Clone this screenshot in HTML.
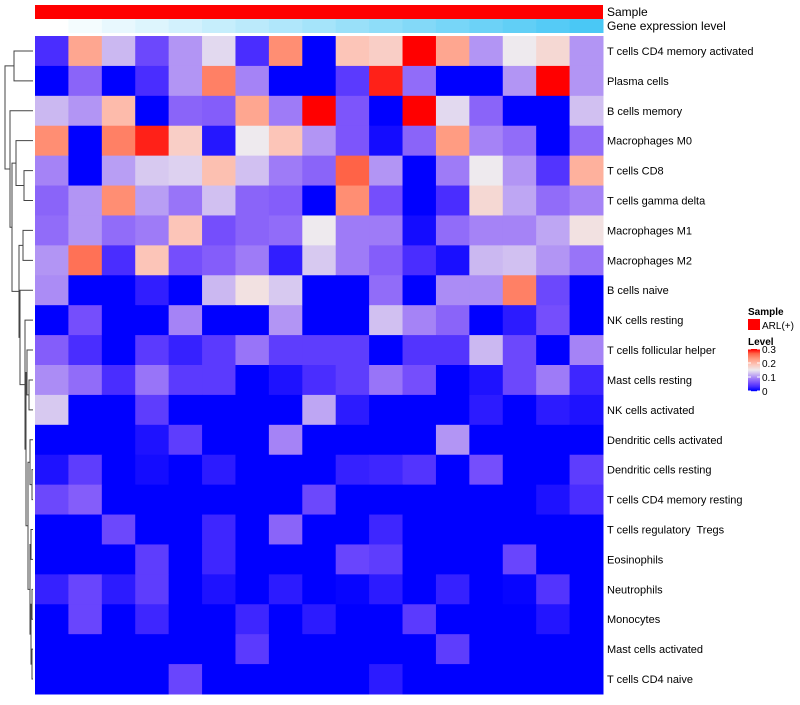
<!DOCTYPE html>
<html><head><meta charset="utf-8"><style>
body{margin:0;background:#fff;font-family:"Liberation Sans",sans-serif;}
svg text{font-family:"Liberation Sans",sans-serif;white-space:pre;}
</style></head><body>
<svg id="chart" width="800" height="700" xmlns="http://www.w3.org/2000/svg">
<g id="dend"></g>
<g id="anno"></g>
<g id="cells"></g>
<g id="labels"></g>
<g id="legend"></g>
</svg>
<script>
const rowNames=["T cells CD4 memory activated","Plasma cells","B cells memory","Macrophages M0","T cells CD8","T cells gamma delta","Macrophages M1","Macrophages M2","B cells naive","NK cells resting","T cells follicular helper","Mast cells resting","NK cells activated","Dendritic cells activated","Dendritic cells resting","T cells CD4 memory resting","T cells regulatory  Tregs","Eosinophils","Neutrophils","Monocytes","Mast cells activated","T cells CD4 naive"];
const geneLevel=[0,1,2,3,4,5,6,7,8,9,10,11,12,13,14,15,16];
const values=[
[0.03,0.22,0.12,0.05,0.1,0.14,0.03,0.24,0,0.19,0.18,0.3,0.22,0.1,0.15,0.17,0.1],
[0,0.07,0,0.03,0.1,0.25,0.09,0,0,0.04,0.29,0.075,0,0,0.1,0.3,0.1],
[0.12,0.1,0.2,0,0.07,0.065,0.22,0.085,0.3,0.06,0,0.3,0.14,0.07,0,0,0.125],
[0.24,0,0.25,0.29,0.18,0.015,0.15,0.19,0.1,0.06,0.008,0.07,0.23,0.09,0.075,0,0.075],
[0.09,0,0.105,0.13,0.135,0.195,0.125,0.085,0.07,0.27,0.1,0,0.085,0.15,0.1,0.035,0.21],
[0.07,0.1,0.24,0.105,0.08,0.125,0.07,0.065,0,0.24,0.055,0,0.03,0.17,0.11,0.075,0.09],
[0.075,0.1,0.075,0.085,0.19,0.055,0.07,0.075,0.15,0.085,0.085,0.008,0.075,0.09,0.09,0.11,0.16],
[0.1,0.26,0.03,0.19,0.055,0.065,0.085,0.02,0.13,0.085,0.065,0.03,0.01,0.12,0.125,0.1,0.08],
[0.095,0,0,0.02,0,0.12,0.16,0.13,0,0,0.075,0,0.095,0.095,0.25,0.05,0],
[0,0.055,0,0,0.09,0,0,0.1,0,0,0.125,0.09,0.07,0,0.018,0.055,0],
[0.065,0.03,0,0.04,0.022,0.04,0.08,0.042,0.042,0.042,0,0.035,0.035,0.12,0.05,0,0.09],
[0.095,0.075,0.03,0.08,0.04,0.04,0,0.012,0.03,0.042,0.08,0.055,0,0.012,0.05,0.085,0.025],
[0.13,0,0,0.042,0,0,0,0,0.11,0.018,0,0,0,0.018,0,0.018,0.012],
[0,0,0,0.012,0.042,0,0,0.09,0,0,0,0,0.1,0,0,0,0],
[0.012,0.042,0,0.008,0,0.018,0,0,0,0.022,0.025,0.035,0,0.055,0,0,0.042],
[0.05,0.065,0,0,0,0,0,0,0.05,0,0,0,0,0,0,0.012,0.03],
[0,0,0.05,0,0,0.025,0,0.07,0,0,0.025,0,0,0,0,0,0],
[0,0,0,0.042,0,0.025,0,0,0,0.048,0.042,0,0,0,0.048,0,0],
[0.022,0.048,0.018,0.042,0,0.012,0,0.018,0,0.003,0.018,0,0.022,0,0.003,0.035,0],
[0,0.048,0,0.025,0,0,0.025,0,0.018,0,0,0.04,0,0,0,0.014,0],
[0,0,0,0,0,0,0.04,0,0,0,0,0,0.042,0,0,0,0],
[0,0,0,0,0.048,0,0,0,0,0,0.018,0,0,0,0,0,0]
];
const legendTicks=[0,0.1,0.2,0.3];

const NS="http://www.w3.org/2000/svg";
const X0=35,X1=603,Y0=36,Y1=694;
const nC=values[0].length,nR=rowNames.length;
const cw=(X1-X0)/nC,rh=(Y1-Y0)/nR;
const xPos=c=>X0+c*cw;
const yPos=r=>Y0+r*rh;
const stops=[[0,[0,0,255]],[0.03,[74,45,255]],[0.06,[125,85,251]],[0.09,[165,131,246]],[0.12,[203,184,241]],[0.15,[238,234,238]],[0.19,[252,197,184]],[0.23,[255,156,130]],[0.27,[255,99,71]],[0.3,[255,0,0]]];
function col(v){v=Math.max(0,Math.min(0.3,v));for(let i=1;i<stops.length;i++){if(v<=stops[i][0]){const a=stops[i-1],b=stops[i],t=(v-a[0])/(b[0]-a[0]);return "rgb("+a[1].map((x,k)=>Math.round(x+(b[1][k]-x)*t)).join(",")+")";}}return "red";}
function mk(tag,at,parent){const e=document.createElementNS(NS,tag);for(const k in at)e.setAttribute(k,at[k]);parent.appendChild(e);return e;}

const cells=document.getElementById('cells');
values.forEach((row,r)=>row.forEach((v,c)=>{
 const e=mk('rect',{x:xPos(c),y:yPos(r),width:cw+0.5,height:rh+0.5,fill:col(v)},cells);
 
 
}));
const labels=document.getElementById('labels');
rowNames.forEach((n,r)=>{
 const t=mk('text',{x:607,y:yPos(r)+rh/2+4,'font-size':11,fill:'#000'},labels);t.textContent=n;
 
 
});
const anno=document.getElementById('anno');
const sb=mk('rect',{x:X0,y:5,width:X1-X0,height:14,fill:'#ff0000'},anno);


geneLevel.forEach((g,c)=>{
 const t=g/(geneLevel.length-1);
 const e=mk('rect',{x:xPos(c),y:19,width:cw+0.5,height:14,fill:`rgb(${Math.round(255-181*t)},${Math.round(255-55*t)},${Math.round(255-10*t)})`},anno);
 
 
});
let t1=mk('text',{x:607,y:16,'font-size':12},anno);t1.textContent='Sample';


let t2=mk('text',{x:607,y:30,'font-size':12},anno);t2.textContent='Gene expression level';



const lg=document.getElementById('legend');
let lt=mk('text',{x:748,y:315,'font-size':10,'font-weight':'bold'},lg);lt.textContent='Sample';


let ls=mk('rect',{x:748,y:319,width:12,height:11,fill:'#ff0000'},lg);


let lst=mk('text',{x:762,y:329,'font-size':10},lg);lst.textContent='ARL(+)';


let lv=mk('text',{x:748,y:345,'font-size':10,'font-weight':'bold'},lg);lv.textContent='Level';


const cbTop=349,cbBot=391;
for(let i=0;i<42;i++){const v=0.3*(1-i/41);mk('rect',{x:748,y:cbTop+i,width:12,height:1.2,fill:col(v)},lg);}
legendTicks.forEach(v=>{
 const y=cbBot-(v/0.3)*(cbBot-cbTop);
 const tt=mk('text',{x:762,y:y+4,'font-size':10},lg);tt.textContent=String(v);
 
 
 mk('line',{x1:748,x2:751,y1:y,y2:y,stroke:'#fff','stroke-width':1},lg);
 mk('line',{x1:757,x2:760,y1:y,y2:y,stroke:'#fff','stroke-width':1},lg);
});

const tree=[5,[14,0,1],[10,2,[12,[16,3,[24,4,5]],[19,[23,6,7],[20,8,[25,9,[26,[27,10,[29,11,12]],[28,[30,13,[32,14,15]],[30,[31,16,17],[31,[32,18,19],[32,20,21]]]]]]]]]]];
const dg=document.getElementById('dend');
function draw(n){
 if(typeof n==='number')return{x:33,y:yPos(n)+rh/2};
 const a=draw(n[1]),b=draw(n[2]),x=n[0];
 mk('path',{d:`M${a.x},${a.y}H${x}V${b.y}H${b.x}`,fill:'none',stroke:'#444','stroke-width':1},dg);
 return{x:x,y:(a.y+b.y)/2};
}
draw(tree);
</script>
</body></html>
